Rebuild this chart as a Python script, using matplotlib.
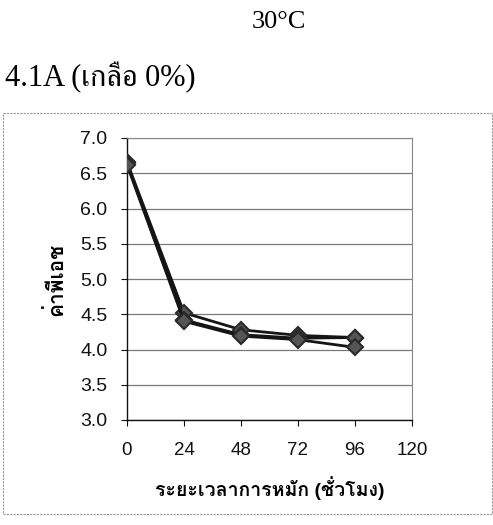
import matplotlib
matplotlib.use("Agg")
import matplotlib.pyplot as plt
from matplotlib import font_manager
from matplotlib.ft2font import FT2Font
from matplotlib.patches import Rectangle

# ---- data ----
hours = [0, 24, 48, 72, 96]
ph_series_a = [6.66, 4.52, 4.28, 4.20, 4.17]
ph_series_b = [6.64, 4.42, 4.21, 4.16, 4.17]
ph_series_c = [6.62, 4.40, 4.19, 4.14, 4.03]
x_ticks = [0, 24, 48, 72, 96, 120]
y_ticks = [3.0, 3.5, 4.0, 4.5, 5.0, 5.5, 6.0, 6.5, 7.0]
title_top = "30°C"
title_panel = "4.1A (เกลือ 0%)"
y_label = "ค่าพีเอช"
x_label = "ระยะเวลาการหมัก (ชั่วโมง)"

# ---- find a font with Thai glyphs, if any ----
thai_sans = None
thai_serif = None
for fe in font_manager.fontManager.ttflist:
    try:
        cm = FT2Font(fe.fname).get_charmap()
    except Exception:
        continue
    if 0x0E01 in cm and 0x0E40 in cm:
        name = fe.name
        low = name.lower()
        if "serif" in low and "sans" not in low:
            thai_serif = thai_serif or name
        else:
            thai_sans = thai_sans or name
sans_list = ["Liberation Sans"] + ([thai_sans] if thai_sans else []) + ["DejaVu Sans"]
serif_list = (["Liberation Serif"] + ([thai_serif] if thai_serif else [])
              + ([thai_sans] if thai_sans else []) + ["DejaVu Serif"])

fig = plt.figure(figsize=(4.93, 5.25), dpi=100)

# outer dashed frame of chart area
fig.patches.append(Rectangle((3 / 493, 1 - 514 / 525), 489 / 493, 401 / 525,
                             transform=fig.transFigure, fill=False,
                             edgecolor="#9a9a9a", linewidth=0.8, linestyle=(0, (2, 1))))

ax = fig.add_axes([127 / 493, 1 - 420 / 525, 285 / 493, 282 / 525])

for s in (ph_series_a, ph_series_b, ph_series_c):
    ax.plot(hours, s, color="#151515", linewidth=2.0, marker="D", markersize=8.5,
            markerfacecolor="#555555", markeredgecolor="#2a2a2a", markeredgewidth=1.5,
            zorder=3)

ax.set_xlim(0, 120)
ax.set_ylim(3.0, 7.0)
ax.set_xticks(x_ticks)
ax.set_yticks(y_ticks)
ax.set_yticklabels([f"{v:.1f}" for v in y_ticks])
ax.yaxis.grid(True, color="#7a7a7a", linewidth=0.9)
ax.set_axisbelow(True)
for side in ("top", "right"):
    ax.spines[side].set_color("#8a8a8a")
    ax.spines[side].set_linestyle((0, (1.5, 1)))
    ax.spines[side].set_linewidth(0.8)
for side in ("left", "bottom"):
    ax.spines[side].set_color("#111111")
    ax.spines[side].set_linewidth(1.0)
ax.tick_params(axis="both", direction="out", length=4, width=0.8, colors="#111111")
ax.tick_params(axis="y", labelsize=14, pad=10)
ax.tick_params(axis="x", labelsize=13.5, pad=12)
for lab in ax.get_xticklabels() + ax.get_yticklabels():
    lab.set_family(sans_list)

ax.set_xlabel(x_label, family=sans_list, fontsize=14, fontweight="bold", labelpad=12)
ax.set_ylabel(y_label, family=sans_list, fontsize=15, fontweight="bold", labelpad=10)

fig.text(279 / 493, 1 - 22 / 525, title_top, family=serif_list, fontsize=19,
         ha="center", va="center")
fig.text(5 / 493, 1 - 78 / 525, title_panel, family=serif_list, fontsize=22,
         ha="left", va="center")

fig.savefig("out.png", dpi=100)
